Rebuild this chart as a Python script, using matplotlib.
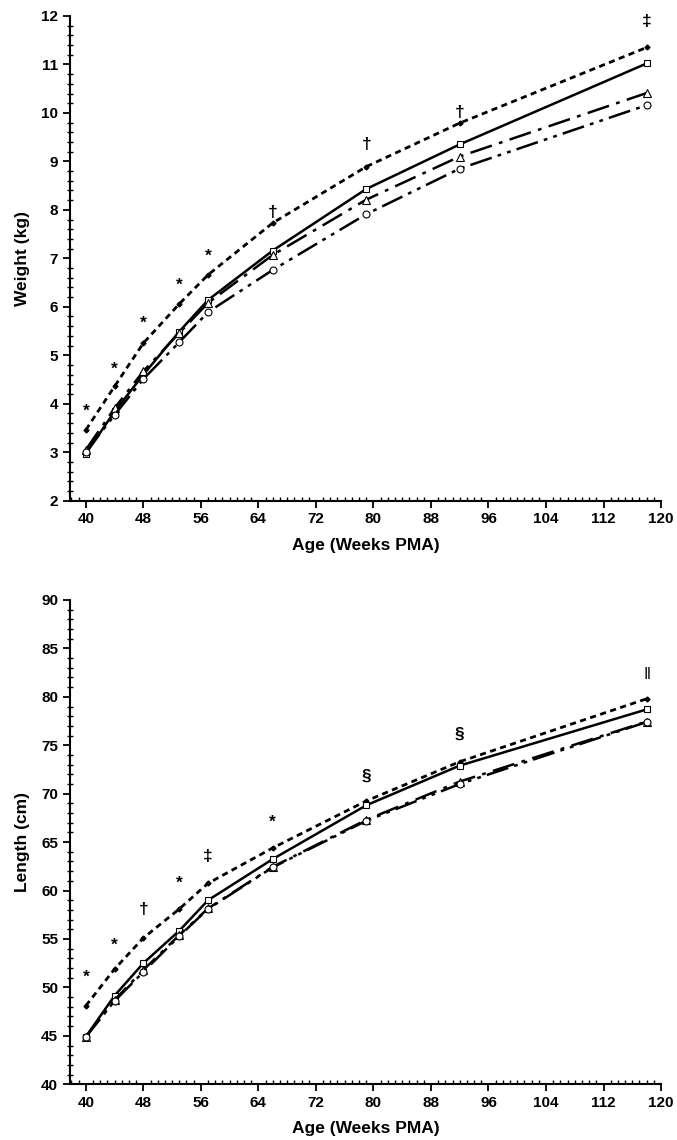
import numpy as np
import matplotlib.pyplot as plt

plt.rcParams['font.family'] = ['Liberation Sans', 'DejaVu Sans']
plt.rcParams['font.weight'] = 'bold'

# Ages (weeks PMA)
age = [40, 44, 48, 53, 57, 66, 79, 92, 118]

# Weight (kg)
weight_a = [3.46, 4.36, 5.25, 6.06, 6.66, 7.73, 8.89, 9.79, 11.35]
weight_b = [2.97, 3.84, 4.60, 5.49, 6.14, 7.16, 8.43, 9.35, 11.02]
weight_c = [3.05, 3.91, 4.67, 5.46, 6.08, 7.07, 8.21, 9.10, 10.41]
weight_d = [3.00, 3.77, 4.51, 5.27, 5.89, 6.76, 7.91, 8.85, 10.16]
weight_sig = ['*', '*', '*', '*', '*', '†', '†', '†', '‡']
weight_sig_y = [3.85, 4.72, 5.65, 6.45, 7.05, 7.95, 9.35, 10.0, 11.88]

# Length (cm)
length_a = [48.1, 51.9, 55.1, 58.1, 60.75, 64.4, 69.25, 73.3, 79.8]
length_b = [44.9, 49.15, 52.5, 55.85, 59.0, 63.25, 68.8, 72.9, 78.7]
length_c = [44.9, 48.7, 51.8, 55.4, 58.15, 62.45, 67.3, 71.25, 77.45]
length_d = [44.9, 48.6, 51.6, 55.3, 58.1, 62.4, 67.2, 71.0, 77.4]
length_sig = ['*', '*', '†', '*', '‡', '*', '§', '§', '‖']
length_sig_y = [51.0, 54.3, 58.0, 60.8, 63.5, 67.1, 71.8, 76.1, 82.3]

styles = [
    dict(ls=(0, (2.2, 1.6)), lw=2.0, marker='D', ms=2.5, mfc='black', mec='black'),
    dict(ls='-', lw=1.8, marker='s', ms=5, mfc='white', mec='black', mew=0.8),
    dict(ls=(0, (9, 3, 1.5, 3)), lw=1.8, marker='^', ms=6, mfc='white', mec='black', mew=0.8),
    dict(ls=(0, (9, 2.5, 1.5, 2.5, 1.5, 2.5)), lw=1.8, marker='o', ms=5, mfc='white', mec='black', mew=0.8),
]

fig = plt.figure(figsize=(6.77, 11.4), dpi=100)
ax1 = fig.add_axes([0.1034, 0.5608, 0.873, 0.4252])
ax2 = fig.add_axes([0.1034, 0.0489, 0.873, 0.4248])


def draw(ax, series, sig, sig_y, ylim, ystep, yminor, ylabel):
    for vals, st in zip(series, styles):
        ax.plot(age, vals, color='black', zorder=3, clip_on=False, **st)
    for x, s, y in zip(age, sig, sig_y):
        w = 'normal' if s == '‖' else 'bold'
        ax.text(x, y, s, ha='center', va='center', fontsize=12.5, fontweight=w)
    ax.set_xlim(37.8, 120)
    ax.set_ylim(*ylim)
    ax.set_xticks(np.arange(40, 121, 8))
    ax.set_xticks(np.arange(38, 121, 1), minor=True)
    ax.set_yticks(np.arange(ylim[0], ylim[1] + 0.01, ystep))
    ax.set_yticks(np.arange(ylim[0], ylim[1] + 0.01, yminor), minor=True)
    for sp in ['top', 'right']:
        ax.spines[sp].set_visible(False)
    for sp in ['left', 'bottom']:
        ax.spines[sp].set_linewidth(1.5)
    ax.tick_params(axis='both', which='major', direction='out', length=5, width=1.3,
                   labelsize=11)
    ax.tick_params(axis='x', which='minor', direction='in', length=3, width=1)
    ax.tick_params(axis='y', which='minor', direction='inout', length=4, width=1)
    for lab in ax.get_xticklabels() + ax.get_yticklabels():
        lab.set_fontweight('bold')
    ax.set_xlabel('Age (Weeks PMA)', fontsize=12.5, fontweight='bold', labelpad=8)
    ax.set_ylabel(ylabel, fontsize=12.5, fontweight='bold', labelpad=8)


draw(ax1, [weight_a, weight_b, weight_c, weight_d], weight_sig, weight_sig_y,
     (2, 12), 1, 0.2, 'Weight (kg)')
draw(ax2, [length_a, length_b, length_c, length_d], length_sig, length_sig_y,
     (40, 90), 5, 1, 'Length (cm)')

fig.savefig('out.png', dpi=100)
